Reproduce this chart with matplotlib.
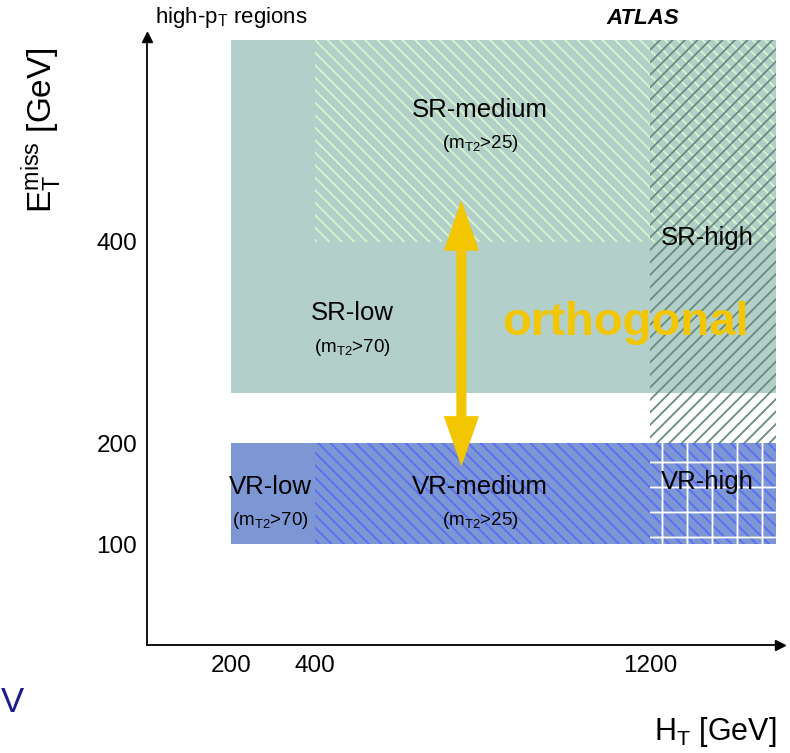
import matplotlib
matplotlib.use("Agg")
import matplotlib.pyplot as plt
import matplotlib.backend_bases as bb
from matplotlib.patches import Rectangle

plt.rcParams["font.family"] = ["Liberation Sans", "DejaVu Sans"]
plt.rcParams["mathtext.fontset"] = "custom"
plt.rcParams["mathtext.rm"] = "Liberation Sans"
plt.rcParams["mathtext.it"] = "Liberation Sans:italic"
plt.rcParams["hatch.linewidth"] = 1.3

# coarser hatching than the default density of 6
_hatchPath = bb.GraphicsContextBase.get_hatch_path
bb.GraphicsContextBase.get_hatch_path = lambda self, density=4.0: _hatchPath(self, density)

# filled regions, (H_T, E_T^miss) in GeV
fillNames = ["SR", "VR"]
fillX = [(200, 1500), (200, 1500)]
fillY = [(250, 600), (100, 200)]
fillColors = ["#b2cfc9", "#7c97d4"]

# hatched sub-regions drawn on top
hatchNames = ["SR-medium", "SR-high", "VR-medium", "VR-high"]
hatchX = [(400, 1500), (1200, 1500), (400, 1500), (1200, 1500)]
hatchY = [(400, 600), (200, 600), (100, 200), (100, 200)]
hatchStyles = ["\\\\\\\\", "////", "\\\\\\\\", "+"]
hatchColors = ["#d6f6cc", "#6a8c80", "#5b6ef2", "#ffffff"]

# region labels: name, mT2 cut, x, y
labelNames = ["SR-medium", "SR-high", "SR-low", "VR-low", "VR-medium", "VR-high"]
labelCuts = ["25", None, "70", "70", "25", None]
labelX = [795, 1336, 489, 294, 795, 1336]
labelY = [531, 404, 329, 157, 157, 162]

xTicks = [200, 400, 1200]
yTicks = [100, 200, 400]

# orthogonality arrow, from VR to SR
arrowX = 750
arrowY = (177, 441)

fig = plt.figure(figsize=(7.9, 7.53), dpi=100)
ax = fig.add_axes([147 / 790, 108 / 753, 633 / 790, 608 / 753])
ax.set_xlim(0, 1510)
ax.set_ylim(0, 603)

for (x0, x1), (y0, y1), c in zip(fillX, fillY, fillColors):
    ax.add_patch(Rectangle((x0, y0), x1 - x0, y1 - y0, facecolor=c, edgecolor="none", lw=0))

for (x0, x1), (y0, y1), h, c in zip(hatchX, hatchY, hatchStyles, hatchColors):
    ax.add_patch(Rectangle((x0, y0), x1 - x0, y1 - y0, facecolor="none",
                           edgecolor=c, hatch=h, lw=0))

for name, cut, x, y in zip(labelNames, labelCuts, labelX, labelY):
    ax.text(x, y, name, ha="center", va="center", fontsize=18.5)
    if cut is not None:
        ax.text(x, y - 34, r"(m$_{\mathrm{T2}}$>" + cut + ")", ha="center",
                va="center", fontsize=13.5)

ax.text(1141, 319, "orthogonal", ha="center", va="center", fontsize=34,
        fontweight="bold", color="#f2c600")

yMid = sum(arrowY) / 2
for yEnd in arrowY:
    ax.arrow(arrowX, yMid, 0, yEnd - yMid, width=24, head_width=84, head_length=50,
             length_includes_head=True, color="#f2c600", lw=0)

# axes with arrow heads
for s in ["top", "right"]:
    ax.spines[s].set_visible(False)
ax.spines["left"].set_linewidth(1.3)
ax.spines["bottom"].set_linewidth(1.3)
ax.plot(1, 0, ">k", ms=7, transform=ax.get_yaxis_transform(), clip_on=False)
ax.plot(0, 1, "^k", ms=7, transform=ax.get_xaxis_transform(), clip_on=False)

ax.set_xticks(xTicks)
ax.set_yticks(yTicks)
ax.tick_params(length=0, labelsize=17.5)
ax.tick_params(axis="x", pad=7)
ax.tick_params(axis="y", pad=7)

ax.set_xlabel(r"H$_{\mathrm{T}}$ [GeV]", fontsize=22, ha="right")
ax.xaxis.set_label_coords(0.994, -0.115)
ax.set_ylabel(r"E$_{\mathrm{T}}^{\mathrm{miss}}$ [GeV]", fontsize=24, va="center")
ax.yaxis.set_label_coords(-0.166, 0.847)

fig.text(155 / 790, 1 - 18 / 753, r"high-p$_{\mathrm{T}}$ regions", fontsize=16, va="center")
fig.text(643 / 790, 1 - 18 / 753, "ATLAS", fontsize=16, fontweight="bold", fontstyle="italic",
         ha="center", va="center")
fig.text(0.001, 1 - 703 / 753, "V", fontsize=25, color="#1c1c8a", va="center")

fig.savefig("out.png", dpi=100)
